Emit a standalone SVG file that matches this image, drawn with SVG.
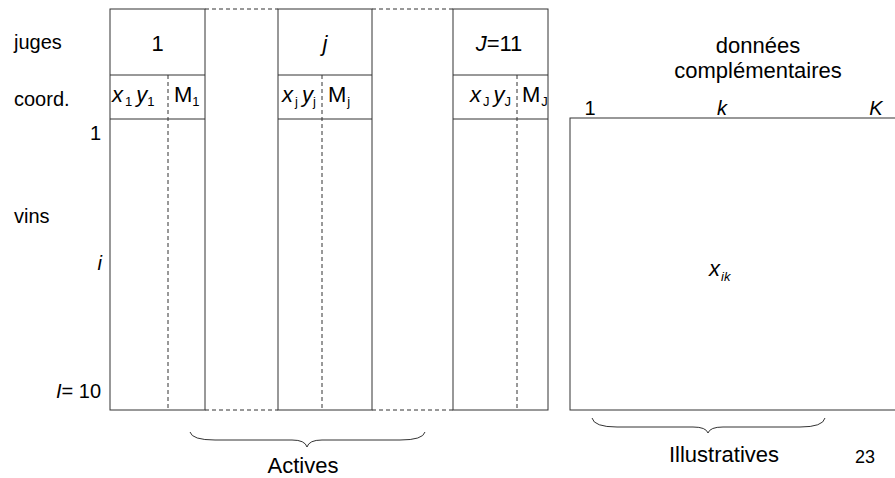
<svg xmlns="http://www.w3.org/2000/svg" width="895" height="478" viewBox="0 0 895 478">
<style>
text{font-family:"Liberation Sans",Arial,sans-serif;fill:#000}
.lbl{font-size:20px}
.hd{font-size:22px}
.it{font-style:italic}
.sub{font-size:13px}
.box{fill:none;stroke:#333;stroke-width:1}
.dash{fill:none;stroke:#333;stroke-width:1;stroke-dasharray:4 3}
.brace{fill:none;stroke:#333;stroke-width:1}
</style>
<rect width="895" height="478" fill="#fff"/>
<g id="row-labels">
<text class="lbl" x="14" y="49">juges</text>
<text class="lbl" x="14" y="106">coord.</text>
<text class="lbl" x="101" y="140" text-anchor="end">1</text>
<text class="lbl" x="14" y="223">vins</text>
<text class="lbl it" x="102" y="270" text-anchor="end">i</text>
<text class="lbl" x="101" y="398" text-anchor="end"><tspan font-style="italic">I</tspan>= 10</text>
</g>
<g id="juge-1">
<rect class="box" x="110" y="9" width="95" height="401"/>
<line class="box" x1="110" y1="75" x2="205" y2="75"/>
<line class="box" x1="110" y1="119" x2="205" y2="119"/>
<line class="dash" x1="168" y1="75" x2="168" y2="410"/>
<text class="hd" x="157.5" y="51" text-anchor="middle">1</text>
<text class="hd" x="112" y="102"><tspan font-style="italic">x</tspan><tspan class="sub" dy="4" dx="2">1</tspan><tspan dy="-4" dx="4" font-style="italic">y</tspan><tspan class="sub" dy="4">1</tspan></text>
<text class="hd" x="174" y="102">M<tspan class="sub" dy="4">1</tspan></text>
</g>
<g id="juge-j">
<rect class="box" x="278" y="9" width="94" height="401"/>
<line class="box" x1="278" y1="75" x2="372" y2="75"/>
<line class="box" x1="278" y1="119" x2="372" y2="119"/>
<line class="dash" x1="322" y1="75" x2="322" y2="410"/>
<text class="hd it" x="325" y="51" text-anchor="middle">j</text>
<text class="hd" x="282" y="102"><tspan font-style="italic">x</tspan><tspan class="sub" dy="4" dx="2">j</tspan><tspan dy="-4" dx="4" font-style="italic">y</tspan><tspan class="sub" dy="4">j</tspan></text>
<text class="hd" x="328" y="102">M<tspan class="sub" dy="4" dx="1">j</tspan></text>
</g>
<g id="juge-J">
<rect class="box" x="453" y="9" width="95" height="401"/>
<line class="box" x1="453" y1="75" x2="548" y2="75"/>
<line class="box" x1="453" y1="119" x2="548" y2="119"/>
<line class="dash" x1="517" y1="75" x2="517" y2="410"/>
<text class="hd" x="499" y="51" text-anchor="middle"><tspan font-style="italic">J</tspan>=11</text>
<text class="hd" x="470" y="102"><tspan font-style="italic">x</tspan><tspan class="sub" dy="4" dx="2">J</tspan><tspan dy="-4" dx="4" font-style="italic">y</tspan><tspan class="sub" dy="4">J</tspan></text>
<text class="hd" x="522" y="102">M<tspan class="sub" dy="4" dx="1">J</tspan></text>
</g>
<g id="complementaires">
<rect class="box" x="570" y="118" width="380" height="292"/>
<text class="hd" x="758" y="53" text-anchor="middle">données</text>
<text class="hd" x="758" y="78" text-anchor="middle">complémentaires</text>
<text class="lbl" x="590" y="115" text-anchor="middle">1</text>
<text class="lbl it" x="722" y="115" text-anchor="middle">k</text>
<text class="lbl it" x="876" y="115" text-anchor="middle">K</text>
<text class="hd" x="709" y="276"><tspan font-style="italic">x</tspan><tspan class="sub" font-style="italic" dy="5" dx="1">ik</tspan></text>
</g>
<g id="connectors">
<line class="dash" x1="205" y1="9" x2="278" y2="9"/>
<line class="dash" x1="372" y1="9" x2="453" y2="9"/>
<line class="dash" x1="205" y1="410" x2="278" y2="410"/>
<line class="dash" x1="372" y1="410" x2="453" y2="410"/>
<path class="brace" d="M190,432 Q192,440 215,440 L292,440 Q305,440 307,447 Q309,440 322,440 L400,440 Q423,440 425,432"/>
<path class="brace" d="M592,418 Q594,427 617,427 L693,427 Q706,427 708,433 Q710,427 723,427 L800,427 Q823,427 825,418"/>
</g>
<g id="footer">
<text x="303" y="473" text-anchor="middle" font-size="22">Actives</text>
<text x="724" y="462" text-anchor="middle" font-size="22">Illustratives</text>
<text x="865" y="463" text-anchor="middle" font-size="18">23</text>
</g>
</svg>
